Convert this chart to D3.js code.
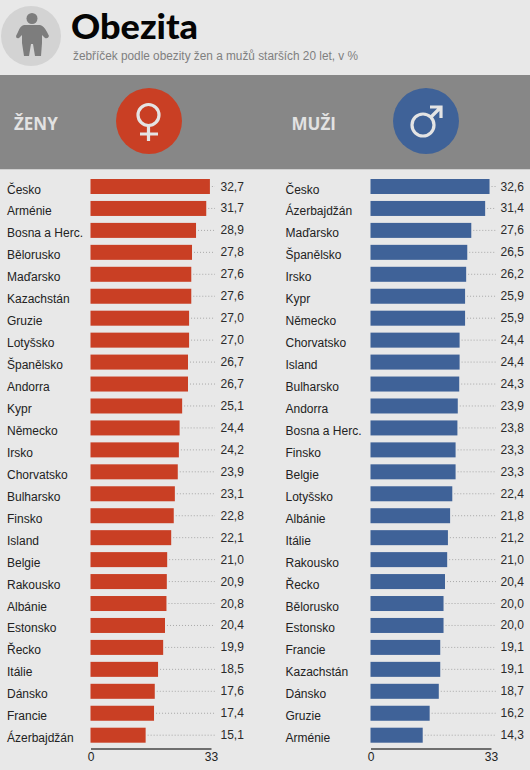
<!DOCTYPE html>
<html><head><meta charset="utf-8">
<script src="https://cdn.jsdelivr.net/npm/d3@7"></script>
<style>html,body{margin:0;padding:0;background:#e8e8e8}svg{display:block}text{font-family:"Liberation Sans",Arial,sans-serif}</style>
</head><body><svg id="c" width="530" height="770"></svg>
<script>
const womenCategories=["Česko","Arménie","Bosna a Herc.","Bělorusko","Maďarsko","Kazachstán","Gruzie","Lotyšsko","Španělsko","Andorra","Kypr","Německo","Irsko","Chorvatsko","Bulharsko","Finsko","Island","Belgie","Rakousko","Albánie","Estonsko","Řecko","Itálie","Dánsko","Francie","Ázerbajdžán"];
const womenValues=[32.7,31.7,28.9,27.8,27.6,27.6,27.0,27.0,26.7,26.7,25.1,24.4,24.2,23.9,23.1,22.8,22.1,21.0,20.9,20.8,20.4,19.9,18.5,17.6,17.4,15.1];
const menCategories=["Česko","Ázerbajdžán","Maďarsko","Španělsko","Irsko","Kypr","Německo","Chorvatsko","Island","Bulharsko","Andorra","Bosna a Herc.","Finsko","Belgie","Lotyšsko","Albánie","Itálie","Rakousko","Řecko","Bělorusko","Estonsko","Francie","Kazachstán","Dánsko","Gruzie","Arménie"];
const menValues=[32.6,31.4,27.6,26.5,26.2,25.9,25.9,24.4,24.4,24.3,23.9,23.8,23.3,23.3,22.4,21.8,21.2,21.0,20.4,20.0,20.0,19.1,19.1,18.7,16.2,14.3];
const axisTicks=[0,33];
const fmt=v=>v.toFixed(1).replace(".",",");
const svg=d3.select("#c");
const red="#c93f24",blue="#3f6298";

// header
svg.append("circle").attr("cx",31).attr("cy",36).attr("r",30).attr("fill","#d3d3d3");
const ic=svg.append("g").attr("fill","#7d7d7d");
ic.append("circle").attr("cx",32).attr("cy",18.5).attr("r",5.5);
ic.append("path").attr("d","M24 25 H40 Q44 26 47 32 L49 36 Q48 39 45 38 L42 35 V43 L41 56 H35 L33 44 H31 L29 56 H24 L22 43 V35 L19 38 Q16 39 16 36 L18 32 Q20 26 24 25Z");
svg.append("text").attr("x",71).attr("y",39).attr("font-size",34).attr("font-weight",900).attr("fill","#050505").style("font-family","Lato").attr("textLength",127).attr("lengthAdjust","spacingAndGlyphs").text("Obezita");
svg.append("text").attr("x",73).attr("y",60).attr("font-size",12).attr("fill","#7f7f7f").attr("textLength",285).attr("lengthAdjust","spacingAndGlyphs").text("žebříček podle obezity žen a mužů starších 20 let, v %");

// band
svg.append("rect").attr("x",0).attr("y",75).attr("width",530).attr("height",94).attr("fill","#878787");
svg.append("rect").attr("x",0).attr("y",169).attr("width",530).attr("height",1).attr("fill","#cfcfcf");
svg.append("text").attr("x",14).attr("y",130).attr("font-size",17).attr("font-weight",700).attr("fill","#e2e2e2").style("font-family","Open Sans").text("ŽENY");
svg.append("text").attr("x",291.5).attr("y",130).attr("font-size",17).attr("font-weight",700).attr("fill","#e2e2e2").style("font-family","Open Sans").text("MUŽI");
svg.append("circle").attr("cx",149).attr("cy",121).attr("r",33).attr("fill",red);
svg.append("circle").attr("cx",426).attr("cy",121).attr("r",33).attr("fill",blue);
const sym=svg.append("g").attr("fill","none").attr("stroke","#e4e4e4").attr("stroke-width",3.2);
sym.append("circle").attr("cx",148.5).attr("cy",115).attr("r",10.5);
sym.append("path").attr("d","M148.5 126 V141 M140 134 H158");
sym.append("circle").attr("cx",423).attr("cy",125).attr("r",11);
sym.append("path").attr("d","M431 117 L441 107 M430 107 H441 V118");

const bandY=d3.scalePoint().domain(d3.range(26)).range([186.5,735.2]);
function panel(cats,vals,x0,x33,labelX,valueX,color,dotEnd){
  const x=d3.scaleLinear().domain([0,33]).range([x0,x33]);
  const g=svg.append("g");
  const rows=g.selectAll("g").data(vals).join("g");
  rows.append("line").attr("x1",d=>x(d)+2).attr("x2",dotEnd).attr("y1",(d,i)=>bandY(i)).attr("y2",(d,i)=>bandY(i))
    .attr("stroke","#a8a8a8").attr("stroke-width",1).attr("stroke-dasharray","1 2");
  rows.append("rect").attr("x",x0).attr("y",(d,i)=>bandY(i)-7.5).attr("width",d=>x(d)-x0).attr("height",15).attr("fill",color);
  rows.append("text").attr("x",valueX).attr("y",(d,i)=>bandY(i)+4).attr("font-size",12).attr("fill","#2a2a2a").text(fmt);
  rows.append("text").attr("x",labelX).attr("y",(d,i)=>bandY(i)+7).attr("font-size",12).attr("fill","#222").text((d,i)=>cats[i]);
  const ax=g.append("g").attr("transform","translate(0,748.5)").call(d3.axisBottom(x).tickValues(axisTicks).tickSize(0).tickPadding(4).tickFormat(d3.format("d")));
  ax.select(".domain").attr("stroke","#6e6e6e").attr("stroke-width",2);
  ax.selectAll("text").attr("font-size",12).attr("fill","#222").style("font-family","Liberation Sans");
}
panel(womenCategories,womenValues,90.5,211,7,220.5,red,215);
panel(menCategories,menValues,370.5,491,285.5,500.5,blue,496);
</script></body></html>
